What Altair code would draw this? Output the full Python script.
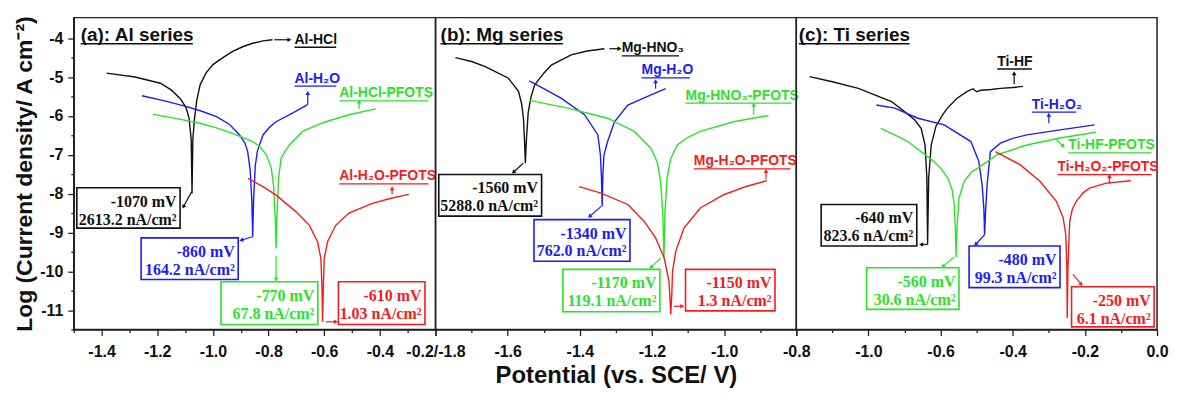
import math
import altair as alt
import pandas as pd

# ---------------- curve data (potential in V vs SCE, log current density) ----------------
# (a) Al series
al_hcl_E = [-1.382, -1.28, -1.189, -1.15, -1.118, -1.097, -1.086, -1.078, -1.075, -1.072, -1.066, -1.058, -1.046, -1.025, -1.0, -0.96, -0.929, -0.893, -0.857, -0.82, -0.786]
al_hcl_logi = [-4.90, -5.00, -5.16, -5.33, -5.55, -5.78, -6.05, -6.6, -8.0, -6.6, -6.05, -5.6, -5.2, -4.9, -4.68, -4.48, -4.34, -4.22, -4.13, -4.07, -4.04]

al_h2o_E = [-1.255, -1.17, -1.094, -1.04, -0.987, -0.94, -0.904, -0.885, -0.875, -0.866, -0.860, -0.857, -0.854, -0.848, -0.840, -0.82, -0.795, -0.773, -0.714, -0.66]
al_h2o_logi = [-5.48, -5.62, -5.76, -5.88, -6.02, -6.22, -6.49, -6.7, -6.92, -7.4, -8.2, -9.11, -8.2, -7.3, -6.9, -6.49, -6.28, -6.15, -5.93, -5.71]

al_hcl_pf_E = [-1.215, -1.13, -1.046, -0.99, -0.929, -0.857, -0.83, -0.808, -0.79, -0.782, -0.776, -0.773, -0.770, -0.764, -0.755, -0.74, -0.725, -0.678, -0.63, -0.594, -0.511, -0.415]
al_hcl_pf_logi = [-5.96, -6.07, -6.19, -6.3, -6.45, -6.66, -6.8, -7.0, -7.35, -7.8, -8.6, -9.41, -8.6, -7.6, -7.09, -6.9, -6.75, -6.4, -6.25, -6.15, -5.97, -5.82]

al_h2o_pf_E = [-0.874, -0.82, -0.773, -0.701, -0.654, -0.624, -0.612, -0.608, -0.606, -0.603, -0.600, -0.588, -0.558, -0.511, -0.427, -0.36, -0.296]
al_h2o_pf_logi = [-7.61, -7.82, -8.04, -8.47, -8.81, -9.24, -9.67, -10.4, -11.3, -10.4, -9.67, -9.24, -8.81, -8.5, -8.25, -8.12, -8.02]

# (b) Mg series
mg_hno3_E = [-1.745, -1.70, -1.662, -1.598, -1.57, -1.561, -1.556, -1.553, -1.551, -1.548, -1.543, -1.535, -1.525, -1.50, -1.479, -1.424, -1.38, -1.332]
mg_hno3_logi = [-4.50, -4.6, -4.73, -5.03, -5.37, -5.7, -6.1, -6.7, -7.22, -6.6, -5.9, -5.5, -5.2, -4.9, -4.69, -4.43, -4.33, -4.27]

mg_h2o_E = [-1.54, -1.50, -1.451, -1.387, -1.35, -1.343, -1.340, -1.338, -1.336, -1.333, -1.323, -1.304, -1.267, -1.212, -1.162]
mg_h2o_logi = [-5.10, -5.3, -5.55, -5.97, -6.49, -7.0, -7.6, -8.33, -7.5, -7.0, -6.66, -6.15, -5.72, -5.50, -5.30]

mg_hno3_pf_E = [-1.54, -1.433, -1.323, -1.249, -1.203, -1.185, -1.176, -1.170, -1.167, -1.164, -1.158, -1.148, -1.13, -1.10, -1.066, -0.974, -0.877]
mg_hno3_pf_logi = [-5.60, -5.80, -6.06, -6.40, -6.83, -7.2, -7.7, -8.5, -9.66, -8.5, -7.6, -7.1, -6.75, -6.55, -6.40, -6.15, -5.99]

mg_h2o_pf_E = [-1.402, -1.341, -1.267, -1.222, -1.19, -1.166, -1.153, -1.150, -1.148, -1.145, -1.143, -1.134, -1.111, -1.066, -1.001, -0.937, -0.882]
mg_h2o_pf_logi = [-7.82, -7.99, -8.28, -8.71, -9.14, -9.66, -10.25, -10.7, -11.11, -10.6, -10.0, -9.48, -8.88, -8.37, -8.03, -7.81, -7.67]

# (c) Ti series
ti_hf_E = [-0.963, -0.90, -0.828, -0.736, -0.70, -0.672, -0.654, -0.643, -0.638, -0.636, -0.633, -0.626, -0.613, -0.595, -0.581, -0.555, -0.526, -0.51, -0.50, -0.489, -0.46, -0.434, -0.40, -0.372]
ti_hf_logi = [-4.99, -5.12, -5.29, -5.63, -5.89, -6.1, -6.32, -6.75, -7.6, -9.31, -7.6, -6.75, -6.27, -5.98, -5.8, -5.55, -5.37, -5.3, -5.38, -5.34, -5.32, -5.29, -5.27, -5.24]

ti_h2o2_E = [-0.778, -0.727, -0.663, -0.590, -0.516, -0.494, -0.485, -0.480, -0.478, -0.475, -0.471, -0.462, -0.434, -0.40, -0.361, -0.269, -0.173]
ti_h2o2_logi = [-5.72, -5.80, -6.06, -6.23, -6.66, -7.17, -7.77, -8.4, -9.06, -8.4, -7.77, -6.92, -6.7, -6.58, -6.49, -6.36, -6.23]

ti_hf_pf_E = [-0.766, -0.72, -0.691, -0.654, -0.626, -0.599, -0.580, -0.568, -0.562, -0.559, -0.557, -0.554, -0.549, -0.535, -0.515, -0.498, -0.443, -0.361, -0.269, -0.169]
ti_hf_pf_logi = [-6.32, -6.52, -6.66, -6.92, -7.12, -7.35, -7.6, -7.9, -8.3, -8.9, -9.63, -8.8, -8.12, -7.69, -7.45, -7.35, -7.0, -6.75, -6.57, -6.42]

ti_h2o2_pf_E = [-0.448, -0.379, -0.324, -0.279, -0.260, -0.253, -0.250, -0.249, -0.247, -0.242, -0.235, -0.224, -0.205, -0.187, -0.141, -0.073]
ti_h2o2_pf_logi = [-6.92, -7.26, -7.69, -8.2, -8.63, -9.06, -9.9, -11.2, -9.9, -8.71, -8.4, -8.2, -7.98, -7.86, -7.73, -7.67]

# ---------------- annotation text ----------------
panel_titles = {"a": "(a): Al series", "b": "(b): Mg series", "c": "(c): Ti series"}
curve_names = {
    "a": ["Al-HCl", "Al-H\u2082O", "Al-HCl-PFOTS", "Al-H\u2082O-PFOTS"],
    "b": ["Mg-HNO\u2083", "Mg-H\u2082O", "Mg-HNO\u2083-PFOTS", "Mg-H\u2082O-PFOTS"],
    "c": ["Ti-HF", "Ti-H\u2082O\u2082", "Ti-HF-PFOTS", "Ti-H\u2082O\u2082-PFOTS"],
}
ecorr_labels = {
    "a": ["-1070 mV", "-860 mV", "-770 mV", "-610 mV"],
    "b": ["-1560 mV", "-1340 mV", "-1170 mV", "-1150 mV"],
    "c": ["-640 mV", "-480 mV", "-560 mV", "-250 mV"],
}
icorr_labels = {
    "a": ["2613.2 nA/cm\u00b2", "164.2 nA/cm\u00b2", "67.8 nA/cm\u00b2", "1.03 nA/cm\u00b2"],
    "b": ["5288.0 nA/cm\u00b2", "762.0 nA/cm\u00b2", "119.1 nA/cm\u00b2", "1.3 nA/cm\u00b2"],
    "c": ["823.6 nA/cm\u00b2", "99.3 nA/cm\u00b2", "30.6 nA/cm\u00b2", "6.1 nA/cm\u00b2"],
}
x_title = "Potential (vs. SCE/ V)"
y_title = "Log (Current density/ A cm\u207b\u00b2)"

KINDS = ["black", "blue", "green", "red"]
COLORS = ["#111111", "#1c1cf5", "#2be22b", "#f51c1c"]
cscale = alt.Scale(domain=KINDS, range=COLORS)

curves = {
    "a": [(al_hcl_E, al_hcl_logi), (al_h2o_E, al_h2o_logi), (al_hcl_pf_E, al_hcl_pf_logi), (al_h2o_pf_E, al_h2o_pf_logi)],
    "b": [(mg_hno3_E, mg_hno3_logi), (mg_h2o_E, mg_h2o_logi), (mg_hno3_pf_E, mg_hno3_pf_logi), (mg_h2o_pf_E, mg_h2o_pf_logi)],
    "c": [(ti_hf_E, ti_hf_logi), (ti_h2o2_E, ti_h2o2_logi), (ti_hf_pf_E, ti_hf_pf_logi), (ti_h2o2_pf_E, ti_h2o2_pf_logi)],
}

# ---------------- layout / annotation geometry (data coordinates) ----------------
Y_DOM = [-11.5, -3.47]
H = 313
PANELS = {
    "a": {"domain": [-1.5, -0.2], "width": 363},
    "b": {"domain": [-1.8, -0.8], "width": 362},
    "c": {"domain": [-1.0, 0.0], "width": 362},
}
# boxes: x_left, x_right, y_top, y_bottom (order: black, blue, green, red)
box_geo = {
    "a": [(-1.489, -1.118, -7.85, -8.89), (-1.258, -0.909, -9.14, -10.21), (-0.971, -0.623, -10.27, -11.37), (-0.549, -0.238, -10.27, -11.37)],
    "b": [(-1.791, -1.506, -7.51, -8.58), (-1.527, -1.261, -8.67, -9.74), (-1.447, -1.178, -9.95, -11.04), (-1.107, -0.859, -9.95, -11.02)],
    "c": [(-0.931, -0.666, -8.28, -9.35), (-0.521, -0.269, -9.35, -10.42), (-0.805, -0.549, -9.91, -10.98), (-0.237, -0.008, -10.40, -11.43)],
}
# curve labels: x_left, x_right (underline), y
label_geo = {
    "a": [(-0.707, -0.557, -4.04), (-0.707, -0.557, -5.04), (-0.546, -0.225, -5.42), (-0.546, -0.225, -7.56)],
    "b": [(-1.284, -1.125, -4.26), (-1.229, -1.095, -4.83), (-1.107, -0.813, -5.48), (-1.084, -0.816, -7.17)],
    "c": [(-0.443, -0.347, -4.60), (-0.347, -0.224, -5.71), (-0.246, -0.015, -6.76), (-0.276, -0.015, -7.32)],
}
# arrows: x1, y1, x2, y2 (head at x2,y2)
arrow_geo = {
    "a": [(-0.779, -4.04, -0.725, -4.04), (-0.659, -5.71, -0.659, -5.41), (-0.475, -5.82, -0.475, -5.63), (-0.356, -8.02, -0.356, -7.86),
          (-1.076, -7.95, -1.106, -8.34), (-0.858, -9.11, -0.898, -9.20), (-0.773, -9.60, -0.773, -10.21), (-0.594, -11.3, -0.558, -11.3)],
    "b": [(-1.318, -4.27, -1.290, -4.27), (-1.190, -5.30, -1.190, -5.11), (-0.918, -5.97, -0.918, -5.71), (-0.884, -7.64, -0.884, -7.42),
          (-1.557, -7.22, -1.584, -7.45), (-1.341, -8.33, -1.373, -8.59), (-1.176, -9.66, -1.203, -9.90), (-1.139, -10.9, -1.116, -10.9)],
    "c": [(-0.396, -5.18, -0.396, -4.90), (-0.300, -6.19, -0.300, -5.97), (-0.279, -6.61, -0.260, -6.78), (-0.132, -7.75, -0.132, -7.55),
          (-0.636, -9.31, -0.654, -9.31), (-0.478, -9.06, -0.503, -9.31), (-0.562, -9.63, -0.594, -9.88), (-0.233, -10.08, -0.210, -10.34)],
}
arrow_kinds = ["black", "blue", "green", "red", "black", "blue", "green", "red"]
title_geo = {"a": (-1.475, -1.072, -3.91), "b": (-1.786, -1.447, -3.91), "c": (-0.993, -0.686, -3.91)}

MAJOR_X = "abs(round(datum.value*10)) % 2 == 0"
SIGNED = "(datum.value < -0.001 ? '-' : '') + format(abs(datum.value), '.1f')"
label_expr = {
    "a": f"{MAJOR_X} && round(datum.value*10) != -2 ? {SIGNED} : ''",
    "b": f"{MAJOR_X} ? (round(datum.value*10) == -18 ? '-0.2/-1.8' : {SIGNED}) : ''",
    "c": f"{MAJOR_X} && round(datum.value*10) != -10 ? (round(datum.value*10) == -8 ? '-1.0' : {SIGNED}) : ''",
}

FONT = "Liberation Sans"
SERIF = "Liberation Serif"


def build_panel(p):
    dom = PANELS[p]["domain"]
    w = PANELS[p]["width"]
    sx = w / (dom[1] - dom[0])
    sy = H / (Y_DOM[1] - Y_DOM[0])
    xs = alt.Scale(domain=dom, nice=False, zero=False)
    ys = alt.Scale(domain=Y_DOM, nice=False, zero=False)
    n = int(round((dom[1] - dom[0]) * 10))
    xticks = [round(dom[0] + 0.1 * i, 1) for i in range(n + 1)]
    xaxis = alt.Axis(
        values=xticks, labelExpr=label_expr[p], labelFlush=False, labelOverlap=False,
        tickSize={"condition": {"test": MAJOR_X, "value": 6}, "value": 3},
        labelFont=FONT, labelFontWeight="bold", labelFontSize=16, labelPadding=8, labelColor="#111",
        titleFont=FONT, titleFontWeight="bold", titleFontSize=24, titlePadding=4, titleColor="#111",
        domainColor="#222", domainWidth=1.5, tickColor="#222", tickWidth=1.3, grid=False,
    )
    if p == "a":
        yticks = [-11.5 + 0.5 * i for i in range(16)]
        yaxis = alt.Axis(
            values=yticks,
            labelExpr="abs(datum.value - round(datum.value)) < 0.01 ? ((datum.value < 0 ? '-' : '') + format(abs(datum.value), 'd')) : ''",
            tickSize={"condition": {"test": "abs(datum.value - round(datum.value)) < 0.01", "value": 6}, "value": 3},
            labelFont=FONT, labelFontWeight="bold", labelFontSize=16, labelPadding=5, labelColor="#111",
            titleFont=FONT, titleFontWeight="bold", titleFontSize=23, titlePadding=3, titleColor="#111",
            domainColor="#222", domainWidth=1.5, tickColor="#222", tickWidth=1.3, grid=False,
        )
    else:
        yaxis = None
    xt = x_title if p == "b" else None
    yt = y_title if p == "a" else None

    def X(field):
        return alt.X(field, type="quantitative", scale=xs, axis=xaxis, title=xt)

    def Y(field):
        return alt.Y(field, type="quantitative", scale=ys, axis=yaxis, title=yt)

    color = alt.Color("kind:N", scale=cscale, legend=None)

    rows = []
    for (E, L), kind, name in zip(curves[p], KINDS, curve_names[p]):
        for i, (e, l) in enumerate(zip(E, L)):
            rows.append({"E": e, "logi": l, "kind": kind, "name": name, "idx": i})
    lines = alt.Chart(pd.DataFrame(rows)).mark_line(strokeWidth=1.4, clip=True).encode(
        x=X("E"), y=Y("logi"), color=color, detail="name:N", order="idx:Q")

    brows, trows = [], []
    for (x1, x2, yt_, yb), kind, t1, t2 in zip(box_geo[p], KINDS, ecorr_labels[p], icorr_labels[p]):
        brows.append({"E": x1, "E2": x2, "logi": yt_, "logi2": yb, "kind": kind})
        trows.append({"E": x2 - 3.5 / sx, "logi": yt_ - 14 / sy, "t": t1, "kind": kind})
        trows.append({"E": x2 - 3.5 / sx, "logi": yt_ - 32 / sy, "t": t2, "kind": kind})
    boxes = alt.Chart(pd.DataFrame(brows)).mark_rect(fill="white", strokeWidth=1.6).encode(
        x=X("E"), x2="E2:Q", y=Y("logi"), y2="logi2:Q",
        stroke=alt.Stroke("kind:N", scale=cscale, legend=None))
    boxtext = alt.Chart(pd.DataFrame(trows)).mark_text(
        align="right", baseline="middle", font=SERIF, fontWeight="bold", fontSize=16).encode(
        x=X("E"), y=Y("logi"), text="t:N", color=color)

    lrows, urows = [], []
    for (xl, xr, yy), kind, name in zip(label_geo[p], KINDS, curve_names[p]):
        lrows.append({"E": xl, "logi": yy, "t": name, "kind": kind})
        urows.append({"E": xl, "E2": xr, "logi": yy - 7.5 / sy, "kind": kind})
    labels = alt.Chart(pd.DataFrame(lrows)).mark_text(
        align="left", baseline="middle", font=FONT, fontWeight="bold", fontSize=14).encode(
        x=X("E"), y=Y("logi"), text="t:N", color=color)
    ulines = alt.Chart(pd.DataFrame(urows)).mark_rule(strokeWidth=1.3).encode(
        x=X("E"), x2="E2:Q", y=Y("logi"), color=color)

    arows, hrows = [], []
    for (x1, y1, x2, y2), kind in zip(arrow_geo[p], arrow_kinds):
        arows.append({"E": x1, "logi": y1, "E2": x2, "logi2": y2, "kind": kind})
        dx = (x2 - x1) * sx
        dy = -(y2 - y1) * sy
        ang = math.degrees(math.atan2(dx, -dy)) % 360
        hrows.append({"E": x2, "logi": y2, "ang": ang, "kind": kind})
    shafts = alt.Chart(pd.DataFrame(arows)).mark_rule(strokeWidth=1.2).encode(
        x=X("E"), x2="E2:Q", y=Y("logi"), y2="logi2:Q", color=color)
    heads = alt.Chart(pd.DataFrame(hrows)).mark_point(
        shape="triangle-up", filled=True, size=22, opacity=1, strokeWidth=0).encode(
        x=X("E"), y=Y("logi"), angle=alt.Angle("ang:Q", scale=None), color=color)

    tx1, tx2, ty = title_geo[p]
    ttl = alt.Chart(pd.DataFrame([{"E": tx1, "logi": ty, "t": panel_titles[p]}])).mark_text(
        align="left", baseline="middle", font=FONT, fontWeight="bold", fontSize=19, color="#111").encode(
        x=X("E"), y=Y("logi"), text="t:N")
    tul = alt.Chart(pd.DataFrame([{"E": tx1, "E2": tx2, "logi": ty - 9 / sy}])).mark_rule(
        strokeWidth=1.6, color="#111").encode(x=X("E"), x2="E2:Q", y=Y("logi"))

    return alt.layer(lines, boxes, boxtext, labels, ulines, shafts, heads, ttl, tul).properties(
        width=w, height=H)


chart = alt.hconcat(
    build_panel("a"), build_panel("b"), build_panel("c"), spacing=0, bounds="flush"
).resolve_scale(
    x="independent", y="independent", color="shared", stroke="shared"
).properties(
    padding={"left": 5, "top": 5, "right": 0, "bottom": 0}
).configure_view(stroke="#222", strokeWidth=1.5)

chart.save("out.html", embed_options={"renderer": "svg", "actions": False})
